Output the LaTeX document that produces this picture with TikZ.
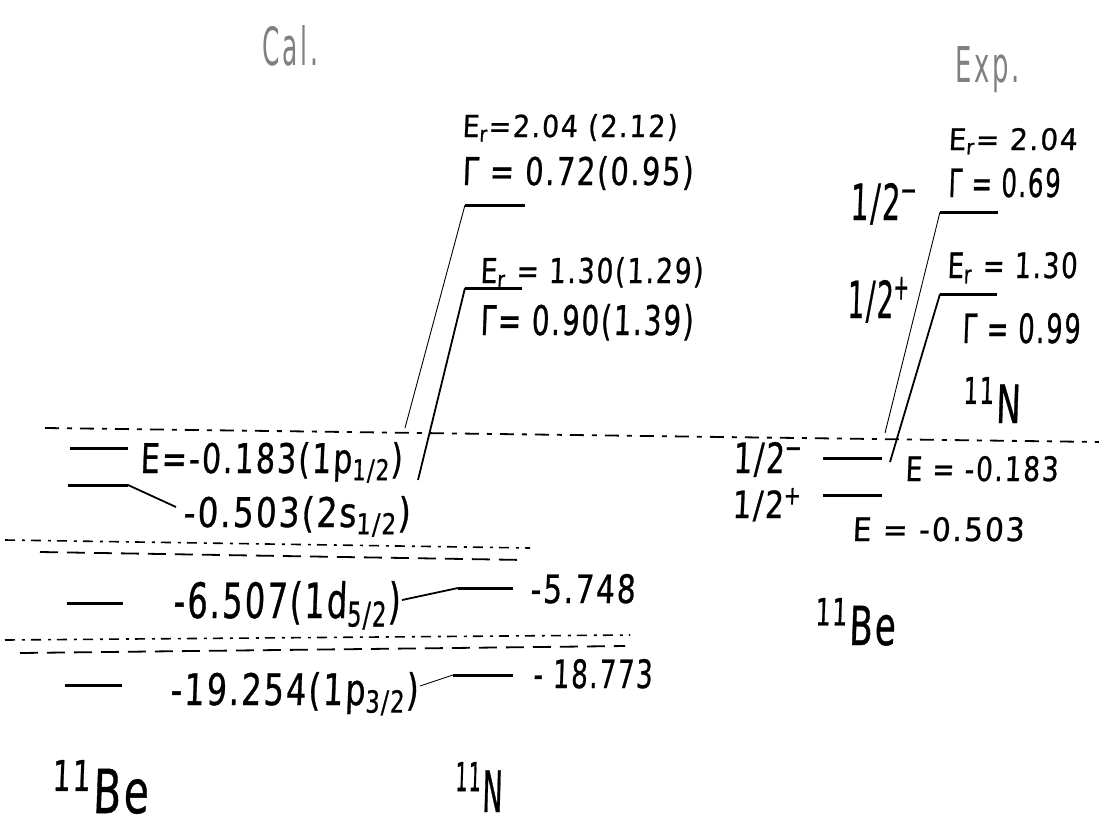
\documentclass[tikz,border=0pt]{standalone}
\usepackage{fontspec}
\usepackage{graphicx}
\setmainfont{DejaVu Sans Condensed}[LetterSpace=6, FakeSlant=0.05, FakeBold=0.8]
\newfontfamily\headfont{DejaVu Sans Condensed}[LetterSpace=10]
\newcommand\T[3]{\resizebox{#1pt}{#2pt}{#3}}
\begin{document}
\begin{tikzpicture}[x=1pt,y=-1pt,
  lvl/.style={line width=3pt},
  conn/.style={line width=1.8pt},
  thinconn/.style={line width=0.9pt},
  thr/.style={line width=1.8pt, dash pattern=on 14pt off 8pt on 5pt off 8pt},
  thrb/.style={line width=1.6pt, dash pattern=on 10pt off 7pt on 3pt off 6pt},
  thrc/.style={line width=1.8pt, dash pattern=on 18pt off 9pt},
  lab/.style={inner sep=0pt, anchor=base west},
  head/.style={lab, text=black!50, font=\headfont},
]
\useasboundingbox (0,0) rectangle (1099,827);

% headings
\node[head] (cal) at (262,65) {\T{56}{40}{Cal.}};
\node[head] (exp) at (955,82) {\T{65}{36}{Exp.}};

% ---------- Cal.: 11N resonances ----------
\node[lab] (er2) at (462,137) {\T{215}{23}{E\textsubscript{r}=2.04 (2.12)}};
\node[lab] (g2)  at (462,185) {\T{231}{29}{Γ = 0.72(0.95)}};
\coordinate (r2a) at (465,205); \coordinate (r2b) at (525,205);
\draw[lvl] (r2a) -- (r2b);
\node[lab] (er1) at (480,283) {\T{223}{26}{E\textsubscript{r} = 1.30(1.29)}};
\coordinate (r1a) at (465,288); \coordinate (r1b) at (522,288);
\draw[lvl] (r1a) -- (r1b);
\node[lab] (g1)  at (480,335) {\T{213}{31}{Γ= 0.90(1.39)}};

% threshold line
\coordinate (t0) at (45,428); \coordinate (t1) at (1099,442);
\draw[thr] (t0) -- (t1);

% ---------- Cal.: 11Be levels ----------
\coordinate (b1a) at (70,448); \coordinate (b1b) at (128,448);
\draw[lvl] (b1a) -- (b1b);
\node[lab] (b1t) at (140,473) {\T{262}{31}{E=-0.183(1p\textsubscript{1/2})}};
\coordinate (b2a) at (68,485); \coordinate (b2b) at (128,485);
\draw[lvl] (b2a) -- (b2b);
\node[lab] (b2t) at (183,527) {\T{227}{31}{-0.503(2s\textsubscript{1/2})}};
\coordinate (b2c) at (176,507);
\draw[conn] (b2b) -- (b2c);

\coordinate (c2) at (405,428);
\coordinate (c1) at (418,480);
\draw[thinconn] (r2a) -- (c2);
\draw[conn] (r1a) -- (c1);

% double dashed lines (upper pair)
\draw[thrb] (5,540) -- (530,548);
\draw[thrc] (40,552) -- (525,560);

\coordinate (b3a) at (67,603); \coordinate (b3b) at (123,603);
\draw[lvl] (b3a) -- (b3b);
\node[lab] (b3t) at (173,618) {\T{227}{37}{-6.507(1d\textsubscript{5/2})}};
\coordinate (n3a) at (458,588); \coordinate (n3b) at (513,588);
\draw[lvl] (n3a) -- (n3b);
\node[lab] (n3t) at (530,603) {\T{105}{29}{-5.748}};
\coordinate (b3c) at (402,600);
\draw[conn] (b3c) -- (n3a);

% double dashed lines (lower pair)
\draw[thrb] (5,640) -- (630,635);
\draw[thrc] (20,653) -- (625,646);

\coordinate (b4a) at (65,685); \coordinate (b4b) at (122,685);
\draw[lvl] (b4a) -- (b4b);
\node[lab] (b4t) at (170,705) {\T{248}{33}{-19.254(1p\textsubscript{3/2})}};
\coordinate (n4a) at (453,675); \coordinate (n4b) at (513,675);
\draw[lvl] (n4a) -- (n4b);
\node[lab] (n4t) at (533,688) {\T{119}{29}{- 18.773}};
\coordinate (b4c) at (420,686);
\draw[thinconn] (b4c) -- (n4a);

\node[lab] (beL) at (52,813) {\T{96}{53}{\textsuperscript{11}Be}};
\node[lab] (nL)  at (455,812) {\T{47}{50}{\textsuperscript{11}N}};

% ---------- Exp. ----------
\node[lab] (xer2) at (948,150) {\T{129}{22}{E\textsubscript{r}= 2.04}};
\node[lab] (xj2)  at (850,220) {\T{68}{37}{1/2\textsuperscript{−}}};
\node[lab] (xg2)  at (948,197) {\T{112}{29}{Γ = 0.69}};
\coordinate (x2a) at (940,212); \coordinate (x2b) at (998,212);
\draw[lvl] (x2a) -- (x2b);
\node[lab] (xer1) at (947,278) {\T{130}{26}{E\textsubscript{r} = 1.30}};
\node[lab] (xj1)  at (847,318) {\T{63}{41}{1/2\textsuperscript{+}}};
\coordinate (x1a) at (940,294); \coordinate (x1b) at (997,294);
\draw[lvl] (x1a) -- (x1b);
\node[lab] (xg1)  at (962,343) {\T{118}{30}{Γ = 0.99}};
\node[lab] (xN)   at (963,423) {\T{57}{46}{\textsuperscript{11}N}};

\node[lab] (xj0m) at (733,473) {\T{70}{31}{1/2\textsuperscript{−}}};
\coordinate (x0a) at (823,458); \coordinate (x0b) at (882,458);
\draw[lvl] (x0a) -- (x0b);
\node[lab] (xe0)  at (905,481) {\T{153}{25}{E = -0.183}};
\node[lab] (xj0p) at (732,518) {\T{70}{30}{1/2\textsuperscript{+}}};
\coordinate (xpa) at (823,495); \coordinate (xpb) at (882,495);
\draw[lvl] (xpa) -- (xpb);
\node[lab] (xe1)  at (852,541) {\T{172}{24}{E = -0.503}};
\node[lab] (xBe)  at (815,645) {\T{80}{47}{\textsuperscript{11}Be}};

\coordinate (xc2) at (885,433);
\coordinate (xc1) at (890,462);
\draw[thinconn] (x2a) -- (xc2);
\draw[conn] (x1a) -- (xc1);
\end{tikzpicture}
\end{document}
